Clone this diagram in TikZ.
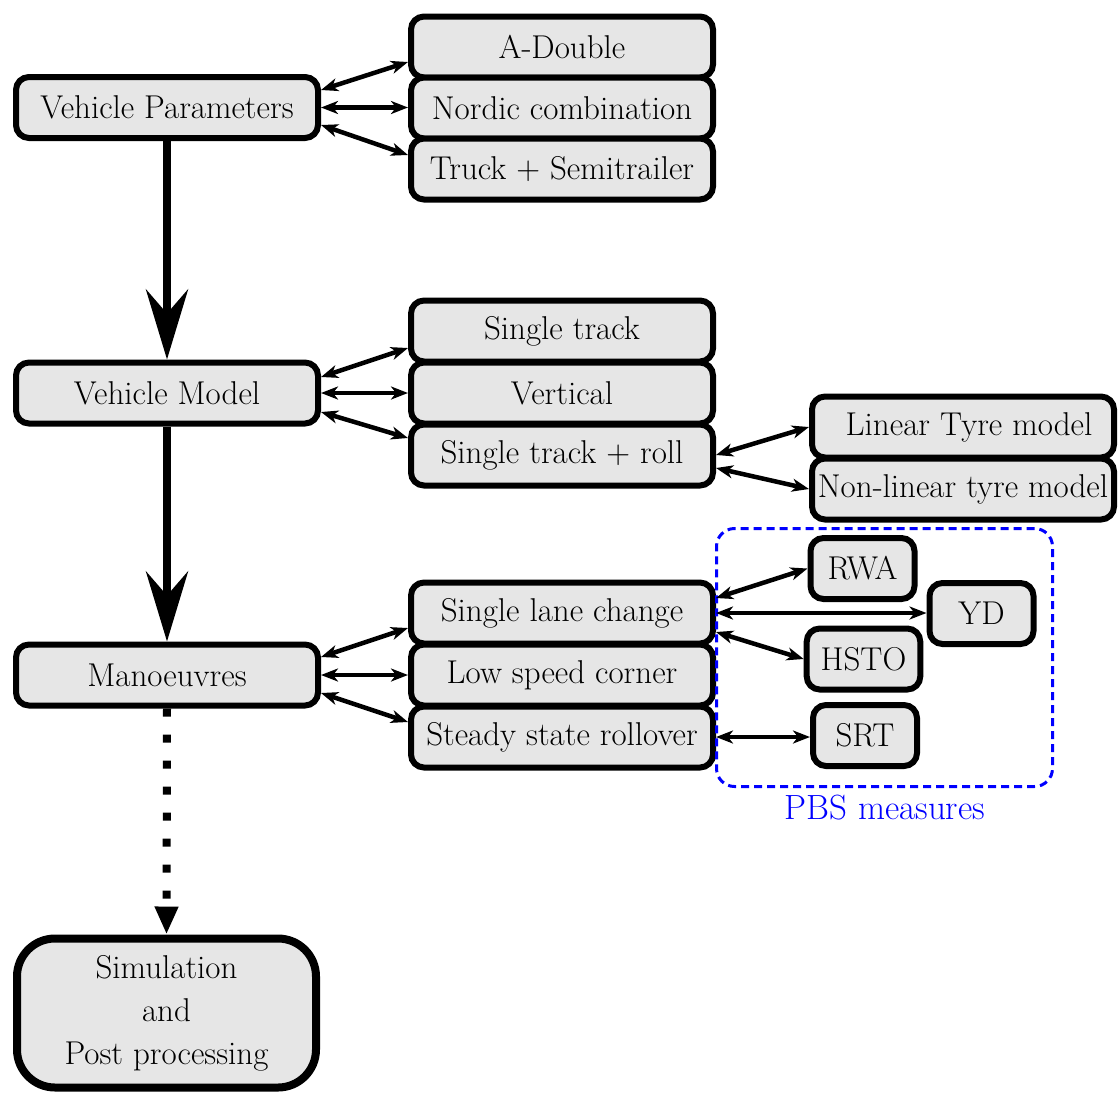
\documentclass[tikz,border=0pt]{standalone}
\usepackage{times}
\usetikzlibrary{arrows.meta,calc}
\definecolor{boxfill}{HTML}{E6E6E6}
\begin{document}
\begin{tikzpicture}[x=1pt,y=-1pt,
  box/.style={draw, line width=6pt, fill=boxfill, rounded corners=13pt, minimum width=302pt, minimum height=61pt, inner sep=0pt, font=\fontsize{33}{39}\selectfont},
  sbox/.style={box, minimum width=104pt, inner xsep=14pt},
  simbox/.style={draw, line width=8pt, fill=boxfill, rounded corners=38pt, minimum width=299pt, minimum height=149pt, align=center, font=\fontsize{33}{43}\selectfont},
  dbl/.style={line width=4.5pt, {Stealth[length=17pt,width=13pt,inset=5pt]}-{Stealth[length=17pt,width=13pt,inset=5pt]}},
  bigarrow/.style={line width=8pt, -{Stealth[length=70pt,width=42pt,inset=24pt]}},
  dotarrow/.style={line width=8pt, dash pattern=on 8pt off 18pt, -{Triangle[length=28pt,width=22pt]}},
  pbs/.style={draw=blue, line width=3pt, dash pattern=on 8pt off 5pt, rounded corners=18pt, minimum width=336pt, minimum height=258pt},
]
\useasboundingbox (0,0) rectangle (1118,1093);

\node[box] (vp) at (167,107.5) {Vehicle Parameters};
\node[box] (ad) at (562,47) {A-Double};
\node[box] (nc) at (562,108) {Nordic combination};
\node[box] (ts) at (562,169) {Truck + Semitrailer};

\node[box] (vm) at (167,393) {Vehicle Model};
\node[box] (st) at (562,331) {Single track};
\node[box] (ve) at (562,393) {Vertical};
\node[box] (str) at (562,455) {Single track + roll};
\node[box] (lt) at (963,427) {\hspace{12pt}Linear Tyre model};
\node[box] (nl) at (963,489) {Non-linear tyre model};

\node[box] (ma) at (167,675) {Manoeuvres};
\node[box] (slc) at (562,613) {Single lane change};
\node[box] (lsc) at (562,675) {Low speed corner};
\node[box] (ssr) at (562,737) {Steady state rollover};

\node[pbs] (pbsbox) at (884.5,657.5) {};
\node[sbox] (rwa) at (862.5,568.5) {RWA};
\node[sbox] (yd) at (981.5,613.5) {YD};
\node[sbox] (hsto) at (863.5,659) {HSTO};
\node[sbox] (srt) at (865,735.5) {SRT};
\node[text=blue, font=\fontsize{35}{40}\selectfont, inner sep=0pt] (pbslabel) at (885,808) {PBS measures};

\node[simbox] (sim) at (166.5,1013) {Simulation\\and\\Post processing};

\draw[dbl] ($(vp.east)+(0,-17.5)$) -- ($(ad.west)+(0,15)$);
\draw[dbl] (vp.east) -- (vp.east -| nc.west);
\draw[dbl] ($(vp.east)+(0,17.5)$) -- ($(ts.west)+(0,-14)$);

\draw[dbl] ($(vm.east)+(0,-16)$) -- ($(st.west)+(0,17)$);
\draw[dbl] (vm.east) -- (vm.east -| ve.west);
\draw[dbl] ($(vm.east)+(0,19)$) -- ($(str.west)+(0,-17)$);

\draw[dbl] (str.east) -- (lt.west);
\draw[dbl] ($(str.east)+(0,13)$) -- (nl.west);

\draw[dbl] ($(ma.east)+(0,-18)$) -- ($(slc.west)+(0,15)$);
\draw[dbl] (ma.east) -- (ma.east -| lsc.west);
\draw[dbl] ($(ma.east)+(0,18)$) -- ($(ssr.west)+(0,-15)$);

\draw[dbl] ($(slc.east)+(0,-15)$) -- (rwa.west);
\draw[dbl] (slc.east) -- (slc.east -| yd.west);
\draw[dbl] ($(slc.east)+(0,19)$) -- (hsto.west);
\draw[dbl] (ssr.east) -- (ssr.east -| srt.west);

\draw[bigarrow] (vp.south) -- (vm.north);
\draw[bigarrow] (vm.south) -- (ma.north);
\draw[dotarrow] (ma.south) -- (sim.north);
\end{tikzpicture}
\end{document}
